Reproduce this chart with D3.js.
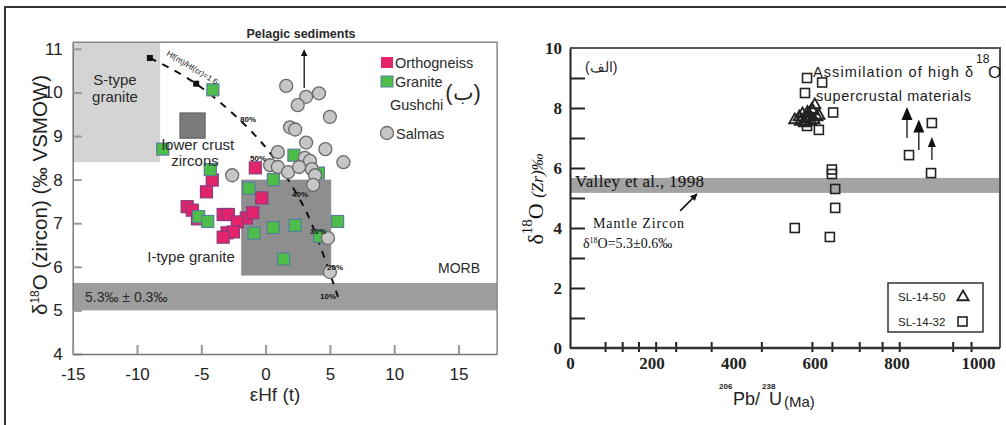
<!DOCTYPE html>
<html>
<head>
<meta charset="utf-8">
<script src="https://cdn.jsdelivr.net/npm/d3@7"></script>
<style>
body { margin: 0; background: #fff; }
</style>
</head>
<body>
<div id="chart"></div>
<script>
// Left panel (b): d18O zircon vs eHf(t)
var orthoX = [-0.8, -4.15, -4.6, -0.3, -6.1, -5.7, -3.3, -2.9, -1.5, -1.0, -2.2, -3.0, -2.5, -3.3, -5.3];
var orthoY = [8.27, 7.99, 7.72, 7.58, 7.38, 7.3, 7.2, 7.2, 7.12, 7.24, 7.03, 6.78, 6.8, 6.68, 7.1];
var graniteX = [-4.1, -8.0, -4.3, 2.2, 0.6, -1.3, 4.1, -5.2, -4.5, -0.9, 0.6, 2.3, 5.6, 4.2, 1.4];
var graniteY = [10.06, 8.7, 8.23, 8.56, 8.0, 7.8, 8.15, 7.15, 7.04, 6.77, 6.9, 6.95, 7.04, 6.7, 6.18];
var salmasX = [1.6, 3.15, 4.15, 2.5, 5.0, 1.9, 2.3, 3.15, 4.65, 6.05, 0.95, 3.05, 3.45, 0.35, 0.95, 1.75, 2.6, 3.6, 3.85, 3.7, -2.6, 4.85, 5.0];
var salmasY = [10.15, 9.9, 9.98, 9.71, 9.44, 9.2, 9.15, 8.85, 8.7, 8.4, 8.63, 8.5, 8.43, 8.33, 8.29, 8.17, 8.29, 8.24, 8.1, 7.88, 8.1, 6.66, 5.88];
var mixX = [-9.0, -5.26, -0.28, 2.69, 3.62, 4.63, 5.63];
var mixY = [10.79, 10.17, 8.84, 7.53, 6.96, 6.16, 5.31];
var mixPct = ["80%", "50%", "40%", "30%", "20%", "10%"];
var leftXTicks = [-15, -10, -5, 0, 5, 10, 15];
var leftYTicks = [4, 5, 6, 7, 8, 9, 10, 11];

// Right panel (alef): d18O(Zr) vs 206Pb/238U age
var sq32X = [581, 618, 576, 645, 551, 637, 642, 642, 650, 650, 831, 887, 885, 581, 610];
var sq32Y = [9.0, 8.85, 8.5, 7.85, 4.0, 3.7, 5.95, 5.8, 5.3, 4.67, 6.43, 7.5, 5.83, 7.4, 7.27];
var tri50X = [551, 562, 570, 578, 585, 590, 595, 600, 605, 575, 588, 598, 565, 610, 582, 593];
var tri50Y = [7.6, 7.7, 7.8, 7.65, 7.8, 7.55, 7.9, 8.1, 7.7, 7.5, 7.7, 7.6, 7.55, 7.75, 7.85, 7.95];
var arrowAge = [826, 855, 887];
var arrowFrom = [7.0, 6.6, 6.27];
var arrowTo = [8.03, 7.62, 7.03];
var rightXLabels = [0, 200, 400, 600, 800, 1000];
var rightXMinor = [86, 128, 168, 210, 259, 346, 469, 593, 642, 709, 765, 807, 938, 983];
var rightYTicks = [1, 2, 3, 4, 5, 6, 7, 8, 9];
var rightYLabels = [0, 2, 4, 6, 8, 10];

var W = 1006, H = 425;
var svg = d3.select("#chart").append("svg")
    .attr("width", W)
    .attr("height", H)
    .style("font-family", "'Liberation Sans', Arial, sans-serif");

// outer frame lines
svg.append("line").attr("x1", 4).attr("x2", W).attr("y1", 7).attr("y2", 7)
    .attr("stroke", "#333").attr("stroke-width", 2);
svg.append("line").attr("x1", 5).attr("x2", 5).attr("y1", 7).attr("y2", H)
    .attr("stroke", "#333").attr("stroke-width", 2);

var defs = svg.append("defs");
defs.append("marker").attr("id", "head").attr("viewBox", "0 0 10 10")
    .attr("refX", 9).attr("refY", 5).attr("markerWidth", 7).attr("markerHeight", 7)
    .attr("orient", "auto").attr("markerUnits", "userSpaceOnUse")
    .append("path").attr("d", "M0,0 L10,5 L0,10 z").attr("fill", "#111");

// ============ LEFT PANEL ============
var xL = d3.scaleLinear().domain([-15, 18]).range([72.7, 497.1]);
var yL = d3.scaleLinear().domain([4, 11.15]).range([354, 42.3]);
var gL = svg.append("g");

// shaded fields
gL.append("rect").attr("x", xL(-15)).attr("y", yL(11.15))
    .attr("width", xL(-8.2) - xL(-15)).attr("height", yL(8.4) - yL(11.15))
    .attr("fill", "#d4d4d4");
gL.append("rect").attr("x", xL(-1.9)).attr("y", yL(8.0))
    .attr("width", xL(5.1) - xL(-1.9)).attr("height", yL(5.8) - yL(8.0))
    .attr("fill", "#8e8e8e");
gL.append("rect").attr("x", xL(-15)).attr("y", yL(5.63))
    .attr("width", xL(18) - xL(-15)).attr("height", yL(5.0) - yL(5.63))
    .attr("fill", "#9d9d9d");
gL.append("rect").attr("x", xL(-6.66)).attr("y", yL(9.53))
    .attr("width", xL(-4.7) - xL(-6.66)).attr("height", yL(8.95) - yL(9.53))
    .attr("fill", "#7b7b7b").attr("stroke", "#5a5a5a").attr("stroke-width", 1);

// axes (ticks point inward)
var plain = function(d) { return String(d); };
var axL = gL.append("g").attr("transform", "translate(" + xL(-15) + ",0)")
    .call(d3.axisLeft(yL).tickValues(leftYTicks).tickFormat(plain).tickSize(-9).tickPadding(10).tickSizeOuter(0));
var axB = gL.append("g").attr("transform", "translate(0," + yL(4) + ")")
    .call(d3.axisBottom(xL).tickValues(leftXTicks).tickFormat(plain).tickSize(-9).tickPadding(14).tickSizeOuter(0));
[axL, axB].forEach(function(a) {
    a.select(".domain").attr("stroke", "#777").attr("stroke-width", 1.5);
    a.selectAll(".tick line").attr("stroke", "#999").attr("stroke-width", 2);
    a.selectAll("text").attr("font-size", "17px").attr("fill", "#222")
        .attr("font-family", "'Liberation Sans', Arial, sans-serif");
});
// frame top/right
gL.append("path")
    .attr("d", "M" + xL(-15) + "," + yL(11.15) + "H" + xL(18) + "V" + yL(4))
    .attr("fill", "none").attr("stroke", "#888").attr("stroke-width", 1.5);

// mixing curve
gL.append("path")
    .datum(d3.range(mixX.length))
    .attr("d", d3.line().curve(d3.curveCatmullRom)
        .x(function(i) { return xL(mixX[i]); })
        .y(function(i) { return yL(mixY[i]); }))
    .attr("fill", "none").attr("stroke", "#111").attr("stroke-width", 2)
    .attr("stroke-dasharray", "7,7");
gL.append("rect").attr("x", xL(-9.0) - 3).attr("y", yL(10.79) - 3)
    .attr("width", 6).attr("height", 6).attr("fill", "#111");
gL.append("rect").attr("x", xL(-5.4) - 3).attr("y", yL(10.2) - 3)
    .attr("width", 6).attr("height", 6).attr("fill", "#111");

// points
gL.selectAll(".ortho").data(d3.range(orthoX.length)).enter().append("rect")
    .attr("x", function(i) { return xL(orthoX[i]) - 6; })
    .attr("y", function(i) { return yL(orthoY[i]) - 6; })
    .attr("width", 12).attr("height", 12)
    .attr("fill", "#e3246b").attr("stroke", "#8a3a80").attr("stroke-width", 1.2);
gL.selectAll(".granite").data(d3.range(graniteX.length)).enter().append("rect")
    .attr("x", function(i) { return xL(graniteX[i]) - 6; })
    .attr("y", function(i) { return yL(graniteY[i]) - 6; })
    .attr("width", 12).attr("height", 12)
    .attr("fill", "#4dbe4a").attr("stroke", "#5a7d9c").attr("stroke-width", 1.2);
gL.selectAll(".salmas").data(d3.range(salmasX.length)).enter().append("circle")
    .attr("cx", function(i) { return xL(salmasX[i]); })
    .attr("cy", function(i) { return yL(salmasY[i]); })
    .attr("r", 6.5)
    .attr("fill", "#c6c6c6").attr("stroke", "#6a6a6a").attr("stroke-width", 1.3);

// mixing labels
var pctPos = [[240, 122], [250, 161], [292, 197], [310, 234], [327, 270], [320, 299]];
mixPct.forEach(function(t, i) {
    gL.append("text").attr("x", pctPos[i][0]).attr("y", pctPos[i][1])
        .attr("font-size", "8px").attr("font-weight", "bold").attr("fill", "#111").text(t);
});
gL.append("text").attr("transform", "translate(166,55) rotate(31)")
    .attr("font-size", "8px").attr("fill", "#222").text("Hf(m)/Hf(cr)=1.6");

// pelagic arrow
gL.append("line").attr("x1", xL(3.0)).attr("x2", xL(3.0)).attr("y1", yL(10.1)).attr("y2", yL(10.97))
    .attr("stroke", "#111").attr("stroke-width", 1.3).attr("marker-end", "url(#head)");

// annotations
function lab(g, x, y, t, size, anchor) {
    return g.append("text").attr("x", x).attr("y", y).attr("font-size", size + "px")
        .attr("text-anchor", anchor || "start").attr("fill", "#2a2a2a").text(t);
}
lab(gL, 301, 38, "Pelagic sediments", 12.5, "middle").attr("font-weight", "bold");
lab(gL, 115, 85, "S-type", 15, "middle");
lab(gL, 115, 102, "granite", 15, "middle");
lab(gL, 198, 150, "lower crust", 15, "middle");
lab(gL, 195, 166, "zircons", 15, "middle");
lab(gL, 191, 262, "I-type granite", 15, "middle");
lab(gL, 459, 273, "MORB", 14, "middle");
lab(gL, 85, 302, "5.3\u2030 \u00b1 0.3\u2030", 14, "start");

// legend
gL.append("rect").attr("x", 381).attr("y", 57).attr("width", 12).attr("height", 11)
    .attr("fill", "#e3246b");
lab(gL, 395, 68, "Orthogneiss", 14.5);
gL.append("rect").attr("x", 381).attr("y", 76).attr("width", 12).attr("height", 11)
    .attr("fill", "#4dbe4a").attr("stroke", "#5a7d9c");
lab(gL, 395, 87, "Granite", 14.5);
lab(gL, 390, 110, "Gushchi", 14.5);
lab(gL, 463, 100, "(\u0628)", 22, "middle");
gL.append("circle").attr("cx", 387).attr("cy", 133).attr("r", 6.5)
    .attr("fill", "#c6c6c6").attr("stroke", "#6a6a6a").attr("stroke-width", 1.3);
lab(gL, 396, 139, "Salmas", 14.5);

// axis titles
var yt = gL.append("text").attr("transform", "translate(47,195) rotate(-90)")
    .attr("text-anchor", "middle").attr("font-size", "20.5px").attr("fill", "#222");
yt.append("tspan").text("\u03b4");
yt.append("tspan").attr("dy", -8).attr("font-size", "12px").text("18");
yt.append("tspan").attr("dy", 8).text("O (zircon) (\u2030 VSMOW)");
lab(gL, 275, 401, "\u03b5Hf (t)", 19, "middle");

// ============ RIGHT PANEL ============
var xR = d3.scaleLinear().domain([0, 1054]).range([570, 1000]);
var yR = d3.scaleLinear().domain([0, 10]).range([348, 48]);
var gR = svg.append("g").style("font-family", "'Liberation Serif', 'Times New Roman', serif");

gR.append("rect").attr("x", xR(0)).attr("y", yR(5.67))
    .attr("width", xR(1054) - xR(0)).attr("height", yR(5.17) - yR(5.67))
    .attr("fill", "#a3a3a3");

// frame
gR.append("path")
    .attr("d", "M" + xR(0) + "," + yR(10) + "H" + xR(1054) + "V" + yR(0))
    .attr("fill", "none").attr("stroke", "#555").attr("stroke-width", 2);

var rY = gR.append("g").attr("transform", "translate(" + xR(0) + ",0)")
    .call(d3.axisLeft(yR).tickValues(rightYTicks).tickSize(-15).tickFormat("").tickSizeOuter(0));
rY.select(".domain").attr("stroke", "#222").attr("stroke-width", 2);
rY.selectAll(".tick line").attr("stroke", "#222").attr("stroke-width", 2);
var rYL = gR.append("g").attr("transform", "translate(" + xR(0) + ",0)")
    .call(d3.axisLeft(yR).tickValues(rightYLabels).tickFormat(plain).tickSize(0).tickPadding(8));
rYL.select(".domain").remove();
rYL.selectAll("text").attr("font-size", "17px").attr("font-weight", "bold").attr("fill", "#222")
    .attr("font-family", "'Liberation Serif', serif");

var rX = gR.append("g").attr("transform", "translate(0," + (yR(0) + 4) + ")")
    .call(d3.axisBottom(xR).tickValues(rightXMinor).tickSize(-10).tickFormat("").tickSizeOuter(0));
rX.select(".domain").remove();
rX.selectAll(".tick line").attr("stroke", "#222").attr("stroke-width", 2);
gR.append("line").attr("x1", xR(0)).attr("x2", xR(1054)).attr("y1", yR(0)).attr("y2", yR(0))
    .attr("stroke", "#333").attr("stroke-width", 2.5);
var rXL = gR.append("g").attr("transform", "translate(0," + yR(0) + ")")
    .call(d3.axisBottom(xR).tickValues(rightXLabels).tickFormat(plain).tickSize(0).tickPadding(9));
rXL.select(".domain").remove();
rXL.selectAll("text").attr("font-size", "17px").attr("font-weight", "bold").attr("fill", "#222")
    .attr("font-family", "'Liberation Serif', serif");

// points
gR.selectAll(".sq").data(d3.range(sq32X.length)).enter().append("rect")
    .attr("x", function(i) { return xR(sq32X[i]) - 4.5; })
    .attr("y", function(i) { return yR(sq32Y[i]) - 4.5; })
    .attr("width", 9).attr("height", 9)
    .attr("fill", "none").attr("stroke", "#222").attr("stroke-width", 1.6);
var tri = d3.symbol().type(d3.symbolTriangle).size(55);
gR.selectAll(".tri").data(d3.range(tri50X.length)).enter().append("path")
    .attr("transform", function(i) { return "translate(" + xR(tri50X[i]) + "," + yR(tri50Y[i]) + ")"; })
    .attr("d", tri)
    .attr("fill", "none").attr("stroke", "#222").attr("stroke-width", 1.8);

// upward arrows
var headW = [11, 11, 8], headH = [13, 13, 10];
arrowAge.forEach(function(a, i) {
    var x = xR(a), y0 = yR(arrowFrom[i]), y1 = yR(arrowTo[i]);
    gR.append("line").attr("x1", x).attr("x2", x).attr("y1", y0).attr("y2", y1 + 4)
        .attr("stroke", "#333").attr("stroke-width", 1.5);
    gR.append("path")
        .attr("d", "M" + x + "," + y1 + "L" + (x - headW[i] / 2) + "," + (y1 + headH[i]) + "L" + (x + headW[i] / 2) + "," + (y1 + headH[i]) + "Z")
        .attr("fill", "#111");
});

// annotations
var sans = "'Liberation Sans', Arial, sans-serif";
var t1 = gR.append("text").attr("x", 813).attr("y", 77).attr("font-size", "14.5px")
    .attr("font-family", sans).attr("fill", "#1a1a1a");
t1.append("tspan").attr("textLength", 160).text("Assimilation of high \u03b4");
gR.append("text").attr("x", 976).attr("y", 63).attr("font-size", "12px").attr("font-family", sans)
    .attr("fill", "#1a1a1a").text("18");
gR.append("text").attr("x", 988).attr("y", 78).attr("font-size", "17px").attr("font-family", sans)
    .attr("fill", "#1a1a1a").text("O");
gR.append("text").attr("x", 816).attr("y", 101).attr("font-size", "14.5px").attr("font-family", sans)
    .attr("fill", "#1a1a1a").attr("textLength", 155).text("supercrustal materials");
gR.append("text").attr("x", 585).attr("y", 72).attr("font-size", "14px").attr("font-family", sans)
    .attr("fill", "#222").text("(\u0627\u0644\u0641)");

gR.append("text").attr("x", 575).attr("y", 187).attr("font-size", "17px")
    .attr("textLength", 129).attr("fill", "#111").text("Valley et al., 1998");
gR.append("line").attr("x1", xR(270)).attr("y1", yR(4.57)).attr("x2", xR(311)).attr("y2", yR(5.13))
    .attr("stroke", "#111").attr("stroke-width", 1.6).attr("marker-end", "url(#head)");
gR.append("text").attr("x", 593).attr("y", 228).attr("font-size", "14px")
    .attr("textLength", 91).attr("fill", "#111").text("Mantle Zircon");
var mz = gR.append("text").attr("x", 583).attr("y", 248).attr("font-size", "14px").attr("fill", "#111");
mz.append("tspan").text("\u03b4");
mz.append("tspan").attr("dy", -5).attr("font-size", "8px").text("18");
mz.append("tspan").attr("dy", 5).text("O=5.3\u00b10.6\u2030");

// legend
gR.append("rect").attr("x", 888).attr("y", 283).attr("width", 95).attr("height", 49)
    .attr("fill", "#fff").attr("stroke", "#333").attr("stroke-width", 1.5);
gR.append("text").attr("x", 898).attr("y", 301).attr("font-size", "11.5px").attr("font-family", sans)
    .attr("fill", "#222").text("SL-14-50");
gR.append("text").attr("x", 898).attr("y", 326).attr("font-size", "11.5px").attr("font-family", sans)
    .attr("fill", "#222").text("SL-14-32");
gR.append("path").attr("transform", "translate(963,297)").attr("d", tri)
    .attr("fill", "none").attr("stroke", "#222").attr("stroke-width", 1.8);
gR.append("rect").attr("x", 958).attr("y", 317).attr("width", 9).attr("height", 9)
    .attr("fill", "none").attr("stroke", "#222").attr("stroke-width", 1.6);

// axis titles
var ry = gR.append("text").attr("transform", "translate(543,199) rotate(-90)")
    .attr("text-anchor", "middle").attr("fill", "#111");
ry.append("tspan").attr("font-size", "22px").text("\u03b4");
ry.append("tspan").attr("font-size", "15px").attr("dy", -11).text("18");
ry.append("tspan").attr("font-size", "22px").attr("dy", 11).text("O ");
ry.append("tspan").attr("font-size", "17px").attr("font-style", "italic").text("(Zr)\u2030");

var xt = gR.append("g").style("font-family", sans).attr("fill", "#222");
xt.append("text").attr("x", 719).attr("y", 389).attr("font-size", "8px").attr("font-weight", "bold").text("206");
xt.append("text").attr("x", 733).attr("y", 405).attr("font-size", "18px").text("Pb/");
xt.append("text").attr("x", 762).attr("y", 389).attr("font-size", "8px").attr("font-weight", "bold").text("238");
xt.append("text").attr("x", 769).attr("y", 405).attr("font-size", "18px").text("U");
xt.append("text").attr("x", 784).attr("y", 407).attr("font-size", "15px").text("(Ma)");
</script>
</body>
</html>
